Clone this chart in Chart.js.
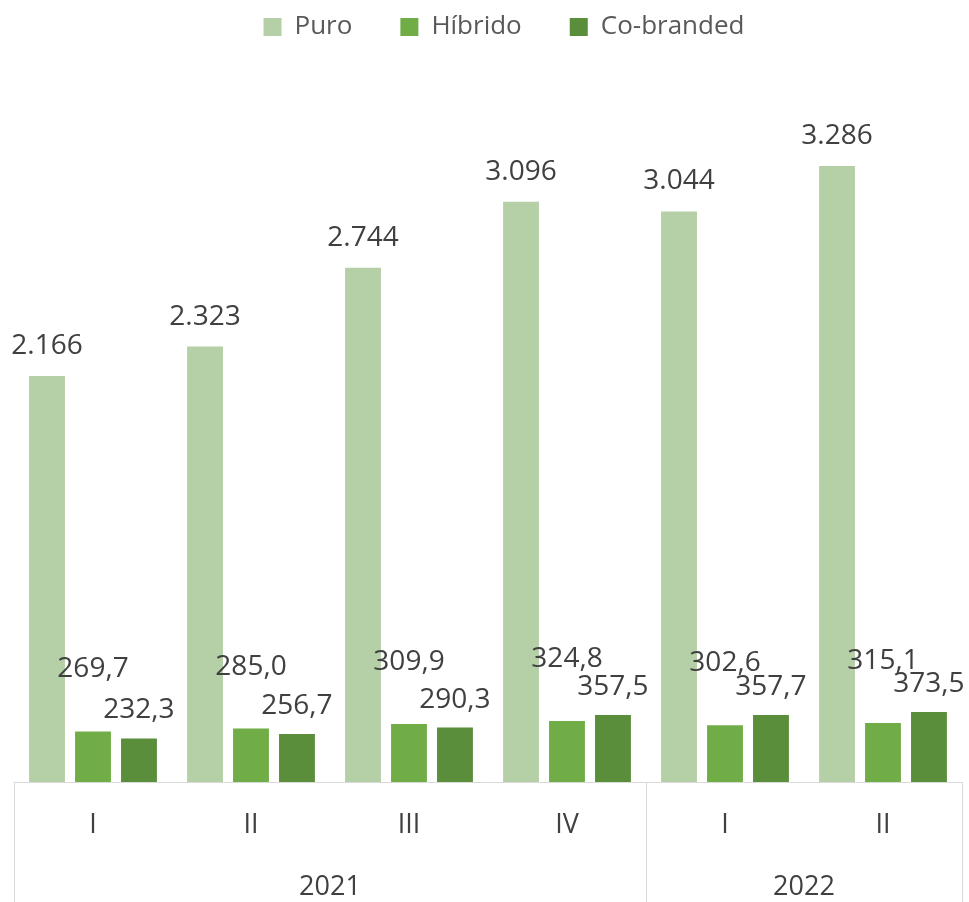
<!DOCTYPE html>
<html>
<head>
<meta charset="utf-8">
<script src="https://cdn.jsdelivr.net/npm/chart.js@4.4.1/dist/chart.umd.min.js"></script>
<style>
  html, body { margin: 0; padding: 0; background: #fff; }
  #wrap { width: 969px; height: 902px; }
</style>
</head>
<body>
<div id="wrap"><canvas id="chart"></canvas></div>
<script>
const quarters = ['I', 'II', 'III', 'IV', 'I', 'II'];
const years = ['2021', '2021', '2021', '2021', '2022', '2022'];
const puro = [2166, 2323, 2744, 3096, 3044, 3286];
const hibrido = [269.7, 285.0, 309.9, 324.8, 302.6, 315.1];
const coBranded = [232.3, 256.7, 290.3, 357.5, 357.7, 373.5];

const FONT = "'Open Sans', 'DejaVu Sans', sans-serif";
const GRID = '#d9d9d9';

// 2.166 for thousands, 269,7 for decimals
function fmtThousands(v) {
    return String(Math.round(v)).replace(/\B(?=(\d{3})+(?!\d))/g, '.');
}
function fmtDecimal(v) {
    return v.toFixed(1).replace('.', ',');
}

const valueLabels = {
    id: 'valueLabels',
    afterDatasetsDraw(chart) {
        const ctx = chart.ctx;
        ctx.save();
        ctx.font = '28px ' + FONT;
        ctx.fillStyle = '#404040';
        ctx.textAlign = 'center';
        ctx.textBaseline = 'middle';
        chart.data.datasets.forEach((ds, i) => {
            const meta = chart.getDatasetMeta(i);
            meta.data.forEach((bar, j) => {
                ctx.fillText(ds.fmt(ds.data[j]), bar.x, bar.y - ds.labelOffset);
            });
        });
        ctx.restore();
    }
};

// second row of the axis: years and separators
const yearAxis = {
    id: 'yearAxis',
    afterDraw(chart) {
        const ctx = chart.ctx;
        const x = chart.scales.x;
        const area = chart.chartArea;
        const step = x.getPixelForValue(1) - x.getPixelForValue(0);
        const bottom = chart.height;
        ctx.save();
        ctx.strokeStyle = GRID;
        ctx.lineWidth = 1;
        let start = 0;
        const edges = [x.getPixelForValue(0) - step / 2];
        for (let i = 1; i <= years.length; i++) {
            if (i === years.length || years[i] !== years[start]) {
                const left = x.getPixelForValue(start) - step / 2;
                const right = x.getPixelForValue(i - 1) + step / 2;
                edges.push(right);
                ctx.font = '27px ' + FONT;
                ctx.fillStyle = '#404040';
                ctx.textAlign = 'center';
                ctx.textBaseline = 'middle';
                ctx.fillText(years[start], (left + right) / 2, area.bottom + 105);
                start = i;
            }
        }
        edges.forEach(e => {
            const px = Math.round(e) + 0.5;
            ctx.beginPath();
            ctx.moveTo(px, area.bottom);
            ctx.lineTo(px, bottom);
            ctx.stroke();
        });
        ctx.restore();
    }
};

// legend sits a bit right of centre in the original
const legendShift = {
    id: 'legendShift',
    afterLayout(chart) {
        chart.legend.left += 16;
        chart.legend.right += 16;
    }
};

const ctx = document.getElementById('chart').getContext('2d');
const myChart = new Chart(ctx, {
    type: 'bar',
    data: {
        labels: quarters,
        datasets: [{
            label: 'Puro',
            data: puro,
            backgroundColor: '#b5cfa7',
            fmt: fmtThousands,
            labelOffset: 30
        }, {
            label: 'Híbrido',
            data: hibrido,
            backgroundColor: '#70ad47',
            fmt: fmtDecimal,
            labelOffset: 62
        }, {
            label: 'Co-branded',
            data: coBranded,
            backgroundColor: '#5a8e3a',
            fmt: fmtDecimal,
            labelOffset: 28
        }]
    },
    options: {
        responsive: true,
        maintainAspectRatio: false,
        animation: false,
        datasets: {
            bar: {
                categoryPercentage: 0.873,
                barPercentage: 0.78
            }
        },
        layout: {
            padding: { left: 14, right: 7, top: -34, bottom: 0 }
        },
        scales: {
            x: {
                grid: { display: false, drawTicks: false },
                border: { display: true, color: GRID, width: 1 },
                ticks: {
                    padding: 27,
                    color: '#404040',
                    font: { family: FONT, size: 27 }
                },
                afterFit(scale) {
                    scale.height = 120;
                }
            },
            y: {
                display: false,
                min: 0,
                max: 3905
            }
        },
        plugins: {
            legend: {
                position: 'top',
                labels: {
                    boxWidth: 18,
                    boxHeight: 18,
                    padding: 48,
                    color: '#595959',
                    font: { family: FONT, size: 26 }
                }
            },
            tooltip: { enabled: false }
        }
    },
    plugins: [valueLabels, yearAxis, legendShift]
});
</script>
</body>
</html>
